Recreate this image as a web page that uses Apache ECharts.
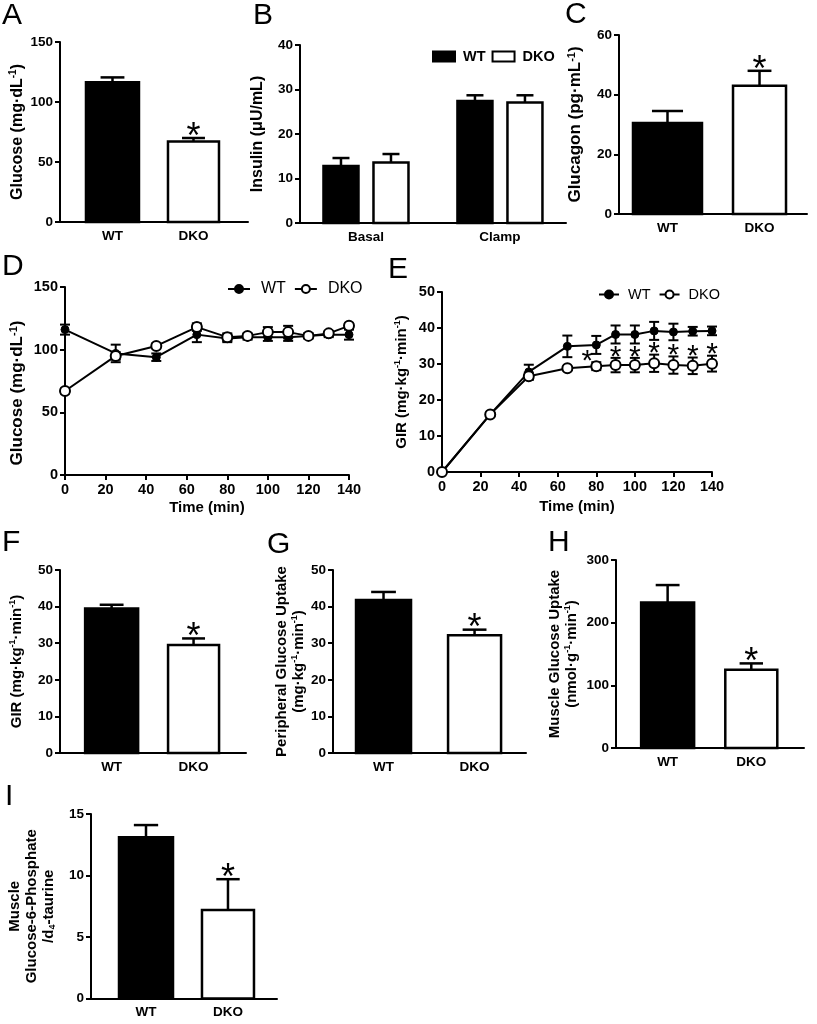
<!DOCTYPE html>
<html><head><meta charset="utf-8">
<script src="https://cdn.jsdelivr.net/npm/echarts@6/dist/echarts.min.js"></script>
<style>html,body{margin:0;padding:0;background:#fff}#c{width:817px;height:1024px}</style>
</head><body><div id="c"></div><script>
const FONT = '"Liberation Sans", Arial, Helvetica, sans-serif';

// ---------------- data ----------------
const groups = ['WT', 'DKO'];
// A: basal glucose
const basalGlucose = [116.5, 67];
const basalGlucoseErr = [4, 3];
const basalGlucoseSig = [0, 1];
// B: insulin
const insulinConds = ['Basal', 'Clamp'];
const insulinWT = [12.8, 27.4];
const insulinWTErr = [1.8, 1.3];
const insulinDKO = [13.6, 27.1];
const insulinDKOErr = [1.9, 1.6];
// C: glucagon
const glucagon = [30.5, 43];
const glucagonErr = [4, 5];
const glucagonSig = [0, 1];
// D: clamp glucose over time
const timeMin = [0, 25, 45, 65, 80, 90, 100, 110, 120, 130, 140];
const clampGluWT = [116, 97, 94, 112, 109, 110, 110, 110, 111, 112, 112];
const clampGluWTErr = [4, 7, 3, 6, 3, 2, 3, 3, 2, 2, 4];
const clampGluDKO = [67, 95, 103, 118, 110, 111, 114, 114, 111, 113, 119];
const clampGluDKOErr = [2, 3, 2, 3, 3, 2, 4, 5, 2, 2, 2];
// E: GIR over time
const girWT = [0, 16, 27.8, 34.9, 35.3, 38.2, 38.2, 39.2, 38.9, 39.1, 39.2];
const girWTErr = [0, 0.5, 2, 3, 2.5, 2.5, 2.5, 2.5, 2.3, 1.2, 1.2];
const girDKO = [0, 16, 26.6, 28.8, 29.4, 29.7, 29.7, 30.2, 29.7, 29.5, 30.1];
const girDKOErr = [0, 0.5, 1, 0.5, 1.1, 2, 2, 2.4, 2.4, 2.3, 2.2];
const girSig = [0, 0, 0, 0, 1, 1, 1, 1, 1, 1, 1];
// F: steady-state GIR
const girSteady = [39.5, 29.5];
const girSteadyErr = [1.0, 1.8];
const girSteadySig = [0, 1];
// G: peripheral glucose uptake
const periUptake = [41.8, 32.2];
const periUptakeErr = [2.2, 1.5];
const periUptakeSig = [0, 1];
// H: muscle glucose uptake
const muscleUptake = [232, 125];
const muscleUptakeErr = [28, 10];
const muscleUptakeSig = [0, 1];
// I: muscle G6P / d4-taurine
const muscleG6P = [13.1, 7.2];
const muscleG6PErr = [1.0, 2.5];
const muscleG6PSig = [0, 1];

// ---------------- helpers ----------------
function starText(x, capY, fs) {
  return { type: 'text', style: { text: '*', x: x, y: capY - 3 + 0.08 * fs, fill: '#000',
    fontSize: fs, fontFamily: FONT, align: 'center', verticalAlign: 'middle' } };
}
function barRenderer(st) {
  return function (params, api) {
    const c = api.value(0), m = api.value(1), e = api.value(2), s = api.value(3);
    const p0 = api.coord([c, 0]), pm = api.coord([c, m]), pe = api.coord([c, m + e]);
    const cx = p0[0] + (st.offset || 0), w = st.width, cap = st.cap, lw = 2.5;
    const kids = [
      { type: 'rect', shape: { x: cx - w / 2, y: pm[1], width: w, height: p0[1] - pm[1] },
        style: { fill: st.fill, stroke: '#000', lineWidth: lw } },
      { type: 'line', shape: { x1: cx, y1: pm[1], x2: cx, y2: pe[1] }, style: { stroke: '#000', lineWidth: lw } },
      { type: 'line', shape: { x1: cx - cap / 2, y1: pe[1], x2: cx + cap / 2, y2: pe[1] }, style: { stroke: '#000', lineWidth: lw } }
    ];
    if (s) kids.push(starText(cx, pe[1], st.star));
    return { type: 'group', children: kids };
  };
}
function errRenderer(cap) {
  return function (params, api) {
    const t = api.value(0), m = api.value(1), e = api.value(2);
    if (!e) return { type: 'group', children: [] };
    const hi = api.coord([t, m + e]), lo = api.coord([t, m - e]), x = hi[0];
    const st = { stroke: '#000', lineWidth: 2 };
    return { type: 'group', children: [
      { type: 'line', shape: { x1: x, y1: hi[1], x2: x, y2: lo[1] }, style: st },
      { type: 'line', shape: { x1: x - cap / 2, y1: hi[1], x2: x + cap / 2, y2: hi[1] }, style: st },
      { type: 'line', shape: { x1: x - cap / 2, y1: lo[1], x2: x + cap / 2, y2: lo[1] }, style: st }
    ] };
  };
}
function eStarRenderer(fs) {
  return function (params, api) {
    const t = api.value(0), d = api.value(1), de = api.value(2), w = api.value(3), we = api.value(4), s = api.value(5);
    if (!s) return { type: 'group', children: [] };
    const dTop = api.coord([t, d + de]), wLow = api.coord([t, w - we]);
    let x = dTop[0];
    if (wLow[1] > dTop[1] - fs * 0.45) x -= fs * 0.3; // avoid the WT error bar
    return starText(x, dTop[1], fs);
  };
}
function nameStyle(fs, lh, pad) {
  const sfs = Math.round(fs * 0.62);
  const s = { fontSize: fs, fontWeight: 'bold', fontFamily: FONT, color: '#000', lineHeight: lh || fs + 2,
    rich: {
      sup: { fontSize: sfs, fontWeight: 'bold', fontFamily: FONT, color: '#000', verticalAlign: 'top', lineHeight: sfs },
      sub: { fontSize: sfs, fontWeight: 'bold', fontFamily: FONT, color: '#000', verticalAlign: 'bottom', lineHeight: sfs }
    } };
  if (pad) s.padding = pad;
  return s;
}
function axLine() { return { show: true, onZero: false, lineStyle: { color: '#000', width: 2 } }; }
function axTick() { return { show: true, length: 5, lineStyle: { color: '#000', width: 2 } }; }
function yAxisCfg(gi, max, interval, name, gap, nfs, lfs, lh, pad) {
  return { type: 'value', gridIndex: gi, min: 0, max: max, interval: interval,
    axisLine: axLine(), axisTick: axTick(), splitLine: { show: false },
    axisLabel: { show: true, color: '#000', fontWeight: 'bold', fontSize: lfs || 13.5, fontFamily: FONT, margin: 7 },
    name: name, nameLocation: 'middle', nameRotate: 90, nameGap: gap,
    nameTextStyle: nameStyle(nfs, lh, pad) };
}
function xCatAxisCfg(gi, min, max, labels) {
  return { type: 'value', gridIndex: gi, min: min, max: max,
    axisLine: axLine(), axisTick: { show: false }, splitLine: { show: false },
    axisLabel: { show: true, customValues: labels.map((_, i) => i),
      formatter: v => (Number.isInteger(v) && labels[v] !== undefined) ? labels[v] : '',
      color: '#000', fontWeight: 'bold', fontSize: 13.5, fontFamily: FONT, margin: 7 } };
}
function xTimeAxisCfg(gi, gap) {
  return { type: 'value', gridIndex: gi, min: 0, max: 140, interval: 20,
    axisLine: axLine(), axisTick: axTick(), splitLine: { show: false },
    axisLabel: { color: '#000', fontWeight: 'bold', fontSize: 14.5, fontFamily: FONT, margin: 7 },
    name: 'Time (min)', nameLocation: 'middle', nameGap: gap,
    nameTextStyle: { fontSize: 15, fontWeight: 'bold', fontFamily: FONT, color: '#000' } };
}
function pairBars(gi, means, errs, sigs, st) {
  return groups.map((g, i) => ({
    type: 'custom', name: g + '_' + gi, xAxisIndex: gi, yAxisIndex: gi, silent: true, clip: false,
    data: [[i, means[i], errs[i], sigs[i]]],
    renderItem: barRenderer({ width: st.widths[i], cap: st.widths[i] * 0.45, fill: i === 0 ? '#000' : '#fff', star: st.star })
  }));
}
function lineSeries(name, gi, xs, ys, open) {
  return { type: 'line', name: name, xAxisIndex: gi, yAxisIndex: gi, clip: false, z: 5,
    data: xs.map((t, i) => [t, ys[i]]), symbol: 'circle', symbolSize: open ? 10 : 8, showSymbol: true,
    itemStyle: open ? { color: '#fff', borderColor: '#000', borderWidth: 2 } : { color: '#000', borderColor: '#000', borderWidth: 1 },
    lineStyle: { color: '#000', width: 2 }, emphasis: { disabled: true } };
}
function errSeries(gi, xs, ys, es) {
  return { type: 'custom', xAxisIndex: gi, yAxisIndex: gi, silent: true, clip: false, z: 3,
    data: xs.map((t, i) => [t, ys[i], es[i]]), renderItem: errRenderer(10) };
}

// ---------------- layout ----------------
const grids = [
  { left: 60, top: 42, width: 188, height: 180 },     // A 0
  { left: 300, top: 45, width: 266, height: 178 },    // B 1
  { left: 619, top: 35, width: 188, height: 179 },    // C 2
  { left: 65, top: 287, width: 284, height: 188 },    // D 3
  { left: 442, top: 292, width: 270, height: 180 },   // E 4
  { left: 60, top: 570, width: 186, height: 183 },    // F 5
  { left: 333, top: 570, width: 193, height: 183 },   // G 6
  { left: 616, top: 560, width: 188, height: 188 },   // H 7
  { left: 91, top: 814, width: 186, height: 184.5 }   // I 8
];

const xAxes = [
  xCatAxisCfg(0, -0.648, 1.673, groups),
  xCatAxisCfg(1, -0.4925, 1.493, insulinConds),
  xCatAxisCfg(2, -0.527, 1.516, groups),
  xTimeAxisCfg(3, 25),
  xTimeAxisCfg(4, 27),
  xCatAxisCfg(5, -0.63, 1.64, groups),
  xCatAxisCfg(6, -0.555, 1.565, groups),
  xCatAxisCfg(7, -0.617, 1.63, groups),
  xCatAxisCfg(8, -0.671, 1.598, groups)
];
const yAxes = [
  yAxisCfg(0, 150, 50, 'Glucose (mg·dL{sup|-1})', 33, 16),
  yAxisCfg(1, 40, 10, 'Insulin (μU/mL)', 33, 16),
  yAxisCfg(2, 60, 20, 'Glucagon (pg·mL{sup|-1})', 34, 17),
  yAxisCfg(3, 150, 50, 'Glucose (mg·dL{sup|-1})', 38, 17, 14.5, null, [0, 24, 0, 0]),
  yAxisCfg(4, 50, 10, 'GIR (mg·kg{sup|-1}·min{sup|-1})', 32, 15, 14.5),
  yAxisCfg(5, 50, 10, 'GIR (mg·kg{sup|-1}·min{sup|-1})', 35, 15),
  yAxisCfg(6, 50, 10, 'Peripheral Glucose Uptake\n(mg·kg{sup|-1}·min{sup|-1})', 22, 15, 13.5, 17),
  yAxisCfg(7, 300, 100, 'Muscle Glucose Uptake\n(nmol·g{sup|-1}·min{sup|-1})', 36, 15, 13.5, 17),
  yAxisCfg(8, 15, 5, 'Muscle\nGlucose-6-Phosphate\n/d{sub|4}-taurine', 34, 15, 13.5, 17)
];

const BAR_STAR = 36, LINE_STAR = 30;
const series = [].concat(
  pairBars(0, basalGlucose, basalGlucoseErr, basalGlucoseSig, { widths: [53, 51], star: BAR_STAR }),
  [
    { type: 'custom', name: 'WT_B', xAxisIndex: 1, yAxisIndex: 1, silent: true, clip: false,
      data: insulinConds.map((c, i) => [i, insulinWT[i], insulinWTErr[i], 0]),
      renderItem: barRenderer({ width: 35, cap: 17, fill: '#000', offset: -25, star: BAR_STAR }) },
    { type: 'custom', name: 'DKO_B', xAxisIndex: 1, yAxisIndex: 1, silent: true, clip: false,
      data: insulinConds.map((c, i) => [i, insulinDKO[i], insulinDKOErr[i], 0]),
      renderItem: barRenderer({ width: 35, cap: 17, fill: '#fff', offset: 25, star: BAR_STAR }) }
  ],
  pairBars(2, glucagon, glucagonErr, glucagonSig, { widths: [69, 53], star: BAR_STAR }),
  [
    errSeries(3, timeMin, clampGluWT, clampGluWTErr),
    errSeries(3, timeMin, clampGluDKO, clampGluDKOErr),
    lineSeries('WT_D', 3, timeMin, clampGluWT, false),
    lineSeries('DKO_D', 3, timeMin, clampGluDKO, true),
    errSeries(4, timeMin, girWT, girWTErr),
    errSeries(4, timeMin, girDKO, girDKOErr),
    lineSeries('WT_E', 4, timeMin, girWT, false),
    lineSeries('DKO_E', 4, timeMin, girDKO, true),
    { type: 'custom', xAxisIndex: 4, yAxisIndex: 4, silent: true, clip: false, z: 6,
      data: timeMin.map((t, i) => [t, girDKO[i], girDKOErr[i], girWT[i], girWTErr[i], girSig[i]]),
      renderItem: eStarRenderer(LINE_STAR) }
  ],
  pairBars(5, girSteady, girSteadyErr, girSteadySig, { widths: [53, 51], star: BAR_STAR }),
  pairBars(6, periUptake, periUptakeErr, periUptakeSig, { widths: [55, 53], star: BAR_STAR }),
  pairBars(7, muscleUptake, muscleUptakeErr, muscleUptakeSig, { widths: [53, 52], star: BAR_STAR }),
  pairBars(8, muscleG6P, muscleG6PErr, muscleG6PSig, { widths: [54, 52], star: BAR_STAR })
);

const legendBase = { selectedMode: false, orient: 'horizontal', formatter: n => n.split('_')[0] };
const legends = [
  Object.assign({}, legendBase, { left: 427, top: 44, itemWidth: 22, itemHeight: 10, itemGap: 6,
    textStyle: { fontSize: 14.5, fontWeight: 'bold', fontFamily: FONT, color: '#000', padding: [0, 0, 0, 3] },
    data: [
      { name: 'WT_B', icon: 'rect', itemStyle: { color: '#000', borderColor: '#000', borderWidth: 2 } },
      { name: 'DKO_B', icon: 'rect', itemStyle: { color: '#fff', borderColor: '#000', borderWidth: 2 } }
    ] }),
  Object.assign({}, legendBase, { left: 222, top: 276, itemWidth: 22, itemHeight: 10, itemGap: 8,
    textStyle: { fontSize: 16, fontFamily: FONT, color: '#000', padding: [0, 0, 0, 6] },
    data: ['WT_D', 'DKO_D'] }),
  Object.assign({}, legendBase, { left: 593, top: 282, itemWidth: 20, itemHeight: 10, itemGap: 8,
    textStyle: { fontSize: 14.5, fontFamily: FONT, color: '#000', padding: [0, 0, 0, 4] },
    data: ['WT_E', 'DKO_E'] })
];

const panelLetters = [['A', 2, 1], ['B', 253, 1], ['C', 565, 0], ['D', 2, 252], ['E', 388, 255],
  ['F', 2, 528], ['G', 267, 530], ['H', 548, 528], ['I', 5, 782]];
const graphic = panelLetters.map(p => ({ type: 'text', left: p[1], top: p[2],
  style: { text: p[0], font: '30px ' + FONT, fill: '#000' } }));

const chart = echarts.init(document.getElementById('c'), null, { renderer: 'canvas' });
chart.setOption({
  animation: false, backgroundColor: '#fff', textStyle: { fontFamily: FONT },
  grid: grids, xAxis: xAxes, yAxis: yAxes, legend: legends, graphic: graphic, series: series
});
</script></body></html>
